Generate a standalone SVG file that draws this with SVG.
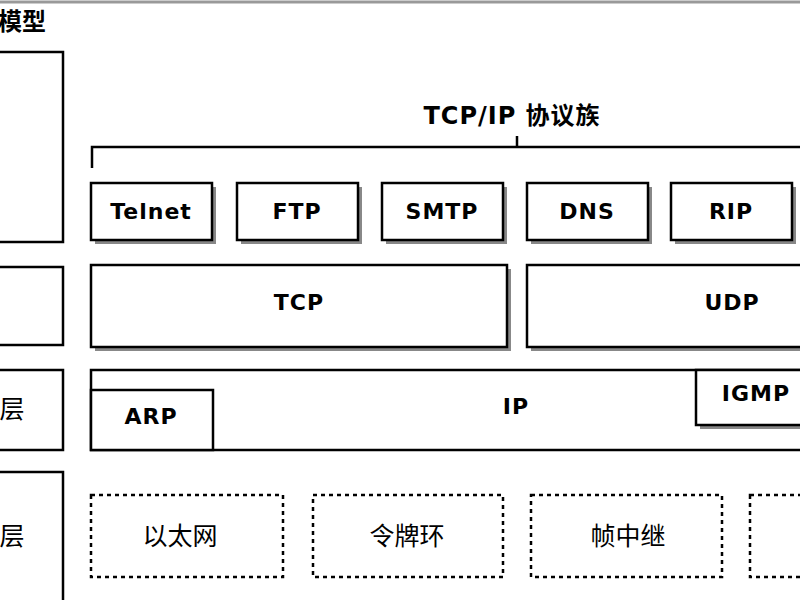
<svg xmlns="http://www.w3.org/2000/svg" width="800" height="600" viewBox="0 0 800 600">
<defs>
<style>
.b{fill:#fff;stroke:#000;stroke-width:2.5}
.s{fill:#888}
.d{fill:#fff;stroke:#000;stroke-width:2.5;stroke-dasharray:4 4}
.t{font-family:"DejaVu Sans","Noto Sans CJK SC",sans-serif;font-weight:bold;font-size:22px;text-anchor:middle;fill:#000;letter-spacing:1px}
.c{font-family:"Noto Sans CJK SC",sans-serif;font-size:25px;text-anchor:middle;fill:#000}
</style>
</defs>
<rect width="800" height="600" fill="#fff"/>
<line x1="0" y1="2" x2="800" y2="2" stroke="#999" stroke-width="3"/>
<text x="46" y="30" class="c" style="text-anchor:end;font-weight:bold;font-size:24px">模型</text>
<g id="left">
<rect x="-10" y="52" width="73" height="190" class="b"/>
<rect x="-10" y="267" width="73" height="78" class="b"/>
<rect x="-10" y="370" width="73" height="80" class="b"/>
<text x="12" y="418" class="c">层</text>
<rect x="-10" y="472" width="73" height="140" class="b"/>
<text x="12" y="545" class="c">层</text>
</g>
<g id="connectors" fill="none" stroke="#000" stroke-width="2.5">
<path d="M92 168V147H802M517 147V136"/>
</g>
<text x="512" y="124" class="t" style="font-size:24px">TCP/IP 协议族</text>
<g id="telnet"><rect x="95" y="187" width="121" height="57" class="s"/><rect x="91" y="183" width="121" height="57" class="b"/><text x="151" y="219" class="t">Telnet</text></g>
<g id="ftp"><rect x="241" y="187" width="121" height="57" class="s"/><rect x="237" y="183" width="121" height="57" class="b"/><text x="297" y="219" class="t">FTP</text></g>
<g id="smtp"><rect x="386" y="187" width="121" height="57" class="s"/><rect x="382" y="183" width="121" height="57" class="b"/><text x="442" y="219" class="t">SMTP</text></g>
<g id="dns"><rect x="531" y="187" width="121" height="57" class="s"/><rect x="527" y="183" width="121" height="57" class="b"/><text x="587" y="219" class="t">DNS</text></g>
<g id="rip"><rect x="675" y="187" width="121" height="57" class="s"/><rect x="671" y="183" width="121" height="57" class="b"/><text x="731" y="219" class="t">RIP</text></g>
<g id="tcp"><rect x="95" y="269" width="416" height="82" class="s"/><rect x="91" y="265" width="416" height="82" class="b"/><text x="299" y="310" class="t">TCP</text></g>
<g id="udp"><rect x="531" y="269" width="300" height="82" class="s"/><rect x="527" y="265" width="300" height="82" class="b"/><text x="732" y="310" class="t">UDP</text></g>
<g id="ip"><rect x="91" y="370" width="740" height="80" class="b"/><text x="516" y="414" class="t">IP</text></g>
<g id="arp"><rect x="91" y="390" width="122" height="60" class="b"/><text x="151" y="424" class="t">ARP</text></g>
<g id="igmp"><rect x="700" y="374" width="120" height="55" class="s"/><rect x="696" y="370" width="120" height="55" class="b"/><text x="756" y="401" class="t">IGMP</text></g>
<g id="eth"><rect x="91" y="495" width="192" height="82" class="d"/><text x="180" y="545" class="c">以太网</text></g>
<g id="token"><rect x="313" y="495" width="190" height="82" class="d"/><text x="407" y="545" class="c">令牌环</text></g>
<g id="frame"><rect x="531" y="495" width="191" height="82" class="d"/><text x="628" y="545" class="c">帧中继</text></g>
<g id="other"><rect x="750" y="495" width="100" height="82" class="d"/></g>
</svg>
